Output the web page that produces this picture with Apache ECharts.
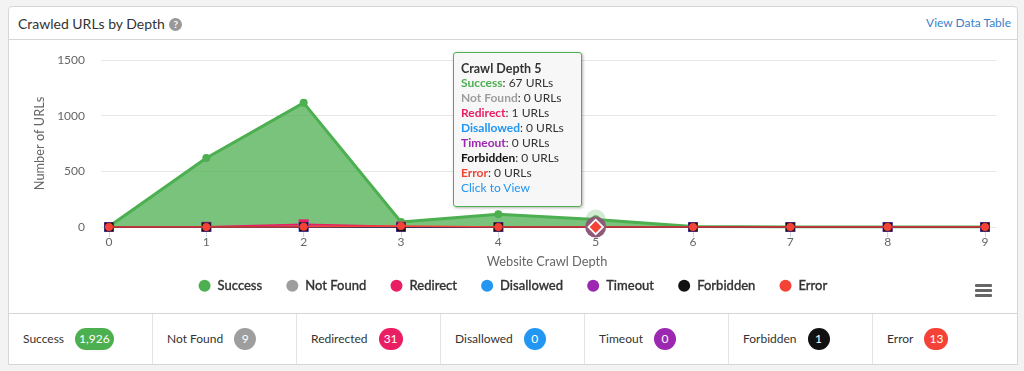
<!DOCTYPE html>
<html>
<head>
<meta charset="utf-8">
<title>Crawled URLs by Depth</title>
<script src="https://cdn.jsdelivr.net/npm/echarts@6/dist/echarts.min.js"></script>
<style>
html, body { margin: 0; padding: 0; width: 1024px; height: 371px; overflow: hidden; background: #f3f3f3; font-family: Lato, sans-serif; }
.panel { position: absolute; left: 8px; top: 6px; width: 1008px; height: 357px; background: #fff; border: 1px solid #d6d6d6; border-radius: 4px 4px 0 0; }
.head { position: absolute; left: 0; top: 0; right: 0; height: 32px; border-bottom: 1px solid #d6d6d6; }
.title { position: absolute; left: 9px; top: 7px; font-size: 14px; line-height: 20px; color: #333; }
.help { display: inline-block; width: 13px; height: 13px; margin-left: 1px; border-radius: 50%; background: #999; color: #fff; font-size: 10px; line-height: 13px; text-align: center; font-weight: bold; vertical-align: 1px; }
.link { position: absolute; right: 6px; top: 7px; font-size: 12px; line-height: 18px; color: #3d7fc9; }
#chart { position: absolute; left: 0; top: 33px; width: 1008px; height: 273px; }
.foot { position: absolute; left: 0; top: 306px; right: 0; height: 50px; border-top: 1px solid #d6d6d6; display: flex; }
.cell { width: 143px; height: 49px; padding-bottom: 1px; border-right: 1px solid #e4e4e4; display: flex; align-items: center; font-size: 12px; color: #333; }
.cell:last-child { border-right: 0; }
.cell span.name { margin-left: 14px; margin-right: 11px; }
.badge { min-width: 22px; height: 22px; line-height: 22px; border-radius: 11px; color: #fff; text-align: center; font-size: 12px; }
.badge.mid { padding: 0 5px; min-width: 14px; }
.badge.wide { padding: 0 4px; }
</style>
</head>
<body>
<div class="panel">
  <div class="head">
    <div class="title">Crawled URLs by Depth <span class="help">?</span></div>
    <div class="link">View Data Table</div>
  </div>
  <div id="chart"></div>
  <div class="foot" id="foot"></div>
</div>
<script>
var depths = ['0', '1', '2', '3', '4', '5', '6', '7', '8', '9'];
var seriesNames = ['Success', 'Not Found', 'Redirect', 'Disallowed', 'Timeout', 'Forbidden', 'Error'];
var seriesColors = ['#4caf50', '#9e9e9e', '#e91e63', '#2196f3', '#9c27b0', '#111111', '#f44336'];

var success = [4, 620, 1115, 45, 115, 67, 5, 0, 0, 0];
var notFound = [0, 3, 4, 1, 1, 0, 0, 0, 0, 0];
var redirect = [0, 2, 24, 4, 0, 1, 0, 0, 0, 0];
var disallowed = [0, 0, 0, 0, 0, 0, 0, 0, 0, 0];
var timeout = [0, 0, 0, 0, 0, 0, 0, 0, 0, 0];
var forbidden = [0, 0, 1, 0, 0, 0, 0, 0, 0, 0];
var errors = [0, 1, 2, 10, 0, 0, 0, 0, 0, 0];

var footNames = ['Success', 'Not Found', 'Redirected', 'Disallowed', 'Timeout', 'Forbidden', 'Error'];
var footTotals = ['1,926', '9', '31', '0', '0', '1', '13'];

var allValues = [success, notFound, redirect, disallowed, timeout, forbidden, errors];
var symbols = ['circle', 'circle', 'rect', 'rect', 'rect', 'rect', 'circle'];
var symbolSizes = [8, 8, 10, 10, 9.5, 9, 8];
var hoverIndex = 5;

// footer cells
var foot = document.getElementById('foot');
footNames.forEach(function (name, i) {
    var wide = footTotals[i].length > 2 ? ' wide' : (footTotals[i].length > 1 ? ' mid' : '');
    foot.innerHTML += '<div class="cell"><span class="name">' + name + '</span><span class="badge' + wide +
        '" style="background:' + seriesColors[i] + '">' + footTotals[i] + '</span></div>';
});

var myChart = echarts.init(document.getElementById('chart'));

var series = seriesNames.map(function (name, i) {
    var s = {
        name: name,
        type: 'line',
        xAxisIndex: 1,
        yAxisIndex: 1,
        data: allValues[i],
        symbol: symbols[i],
        symbolSize: symbolSizes[i],
        showSymbol: true,
        showAllSymbol: true,
        z: 2 + i,
        lineStyle: { color: seriesColors[i], width: i === 0 ? 3 : 1.5 },
        itemStyle: { color: seriesColors[i], opacity: 1 },
        areaStyle: { color: seriesColors[i], opacity: i === 0 ? 0.75 : 0.6 },
        emphasis: { disabled: true },
        animation: false
    };
    if (i === 0) {
        // light halo of the hovered success point
        s.markPoint = {
            silent: true,
            animation: false,
            z: 1,
            label: { show: false },
            data: [{
                coord: [hoverIndex, allValues[i][hoverIndex]],
                symbol: 'circle',
                symbolSize: 20,
                itemStyle: { color: 'rgba(76,175,80,0.25)' }
            }]
        };
    }
    if (i === 6) {
        // highlighted marker on top of everything
        var at = [hoverIndex, allValues[i][hoverIndex]];
        s.markPoint = {
            silent: true,
            animation: false,
            z: 30,
            label: { show: false },
            data: [
                { coord: at, symbol: 'circle', symbolSize: 21, itemStyle: { color: '#8f5a78' } },
                { coord: at, symbol: 'diamond', symbolSize: 17, itemStyle: { color: '#fff' } },
                { coord: at, symbol: 'diamond', symbolSize: 12, itemStyle: { color: '#f44336' } }
            ]
        };
    }
    return s;
});

var option = {
    backgroundColor: '#fff',
    animation: false,
    textStyle: { fontFamily: 'Lato' },
    legend: {
        data: seriesNames.map(function (n) { return { name: n, icon: 'circle' }; }),
        left: 'center',
        top: 234,
        itemWidth: 12,
        itemHeight: 12,
        itemGap: 24,
        selectedMode: false,
        textStyle: { fontFamily: 'Lato', fontSize: 13, fontWeight: 500, color: '#333', padding: [0, 0, 0, 2], textBorderColor: '#333', textBorderWidth: 0.3 }
    },
    // grid 0 only carries the y gridlines, grid 1 holds the marks (inset like the original)
    grid: [
        { left: 92, right: 21, top: 20, height: 167 },
        { left: 100, right: 32, top: 20, height: 167 }
    ],
    xAxis: [
        { gridIndex: 0, type: 'category', show: false, data: depths },
        {
            gridIndex: 1,
            type: 'category',
            boundaryGap: false,
            data: depths,
            name: 'Website Crawl Depth',
            nameLocation: 'middle',
            nameGap: 28,
            nameTextStyle: { color: '#666', fontSize: 12.8, fontFamily: 'Lato' },
            axisLine: { lineStyle: { color: '#ccd6eb' } },
            axisTick: { length: 10, lineStyle: { color: '#ccd6eb' } },
            axisLabel: { color: '#666', fontSize: 12, margin: 9 },
            splitLine: { show: false }
        }
    ],
    yAxis: [
        {
            gridIndex: 0,
            type: 'value',
            min: 0,
            max: 1500,
            interval: 500,
            name: 'Number of URLs',
            nameLocation: 'middle',
            nameGap: 43,
            nameTextStyle: { color: '#666', fontSize: 12.8, fontFamily: 'Lato' },
            axisLine: { show: false },
            axisTick: { show: false },
            axisLabel: { color: '#666', fontSize: 12, margin: 16, formatter: function (v) { return String(v); } },
            splitLine: { lineStyle: { color: '#e6e6e6' } }
        },
        { gridIndex: 1, type: 'value', min: 0, max: 1500, interval: 500, show: false }
    ],
    tooltip: {
        trigger: 'axis',
        alwaysShowContent: true,
        showContent: true,
        transitionDuration: 0,
        position: [444, 12],
        backgroundColor: 'rgba(247,247,247,0.95)',
        borderColor: '#4caf50',
        borderWidth: 1,
        padding: [8, 7, 5, 7],
        extraCssText: 'border-radius:3px;box-shadow:1px 1px 3px rgba(0,0,0,0.3);width:113px;height:140px;line-height:15px;',
        textStyle: { fontFamily: 'Lato', fontSize: 12, color: '#333' },
        axisPointer: { type: 'none' },
        formatter: function () {
            var html = '<div style="height:14px;line-height:15px;font-size:12.5px;font-weight:bold">Crawl Depth ' + depths[hoverIndex] + '</div>';
            seriesNames.forEach(function (name, i) {
                html += '<b style="color:' + seriesColors[i] + '">' + name + '</b>: ' + allValues[i][hoverIndex] + ' URLs<br>';
            });
            return html + '<span style="color:#2196f3">Click to View</span>';
        }
    },
    graphic: [
        { type: 'rect', left: 966, top: 244, shape: { width: 17, height: 3, r: 1 }, style: { fill: '#666' } },
        { type: 'rect', left: 966, top: 249, shape: { width: 17, height: 3, r: 1 }, style: { fill: '#666' } },
        { type: 'rect', left: 966, top: 254, shape: { width: 17, height: 3, r: 1 }, style: { fill: '#666' } }
    ],
    series: series.concat([{
        type: 'line',
        xAxisIndex: 0,
        yAxisIndex: 0,
        data: [],
        silent: true
    }])
};

myChart.setOption(option);
myChart.dispatchAction({ type: 'showTip', seriesIndex: 0, dataIndex: hoverIndex });
</script>
</body>
</html>
